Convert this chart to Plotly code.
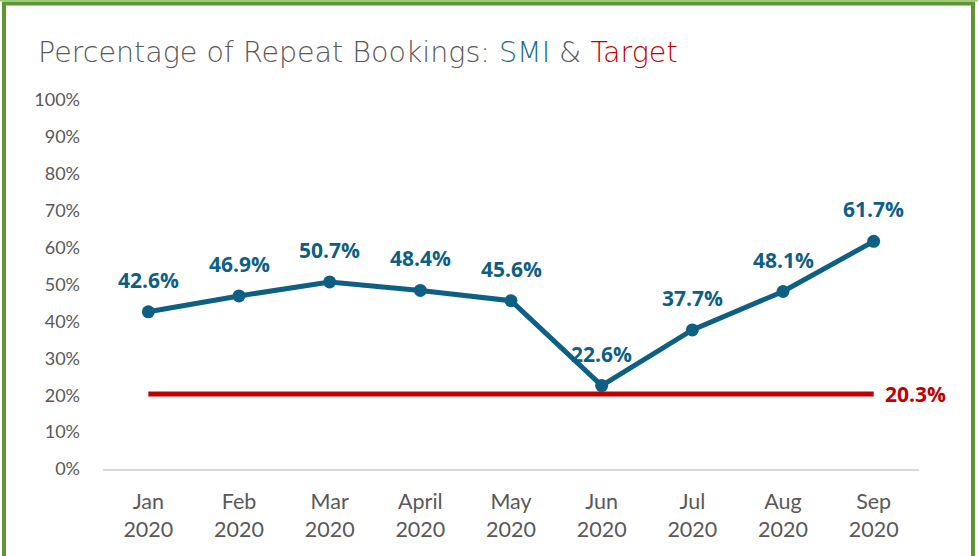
import plotly.graph_objects as go

months = ["Jan<br>2020", "Feb<br>2020", "Mar<br>2020", "April<br>2020", "May<br>2020",
          "Jun<br>2020", "Jul<br>2020", "Aug<br>2020", "Sep<br>2020"]
smi = [42.6, 46.9, 50.7, 48.4, 45.6, 22.6, 37.7, 48.1, 61.7]
target = [20.3] * 9
y_ticks = [0, 10, 20, 30, 40, 50, 60, 70, 80, 90, 100]

SMI_C = "#0E5F84"
TGT_C = "#C00000"
GRAY = "#595959"
GREEN = "#5E9535"

fig = go.Figure()
fig.add_trace(go.Scatter(x=months, y=target, mode="lines",
                         line=dict(color=TGT_C, width=5), hoverinfo="skip"))
fig.add_trace(go.Scatter(x=months, y=smi, mode="lines+markers",
                         line=dict(color=SMI_C, width=5),
                         marker=dict(color=SMI_C, size=13), hoverinfo="skip"))

for m, v in zip(months, smi):
    fig.add_annotation(x=m, y=v, text=f"{v}%", showarrow=False, yshift=32,
                       font=dict(family="Open Sans", size=21, color=SMI_C, weight="bold"))
fig.add_annotation(x=months[-1], y=target[-1], text=f"{target[-1]}%", showarrow=False,
                   xanchor="left", xshift=9,
                   font=dict(family="Open Sans", size=21, color=TGT_C, weight="bold"))

# frame
fig.add_shape(type="rect", xref="paper", yref="paper",
              x0=(4 - 103) / 816, x1=(973 - 103) / 816,
              y0=(469 - 3.5) / 369, y1=(469 - 600) / 369,
              line=dict(color=GREEN, width=4), layer="below")
fig.add_shape(type="line", xref="paper", yref="paper",
              x0=(0 - 103) / 816, x1=(978 - 103) / 816,
              y0=(469 - 0.8) / 369, y1=(469 - 0.8) / 369,
              line=dict(color="#9DC77B", width=1.6), layer="below")

fig.update_layout(
    width=978, height=556,
    margin=dict(l=103, r=59, t=100, b=87),
    paper_bgcolor="white", plot_bgcolor="white",
    showlegend=False,
    title=dict(
        text=("Percentage of Repeat Bookings: <span style='color:#1A6E8E'>SMI</span>"
              " &amp; <span style='color:#C00000'>Target</span>"),
        x=38 / 978, xanchor="left", xref="container",
        y=1 - 52 / 556, yanchor="middle", yref="container",
        font=dict(family="DejaVu Sans", size=28.5, color=GRAY, weight=300),
    ),
    xaxis=dict(
        range=[-0.5, 8.5], showgrid=False, zeroline=False,
        showline=True, linecolor="#D9D9D9", linewidth=2,
        tickfont=dict(family="Lato", size=21.5, color=GRAY),
        ticks="", ticklabelstandoff=12,
    ),
    yaxis=dict(
        range=[0, 100], tickvals=y_ticks, ticktext=[f"{t}%" for t in y_ticks],
        showgrid=False, zeroline=False, showline=False,
        tickfont=dict(family="Lato", size=18, color=GRAY),
        ticks="", ticklabelstandoff=22,
    ),
)

fig.write_html("out.html", config={"displayModeBar": False},
               post_script="document.body.style.margin='0';document.body.style.overflow='hidden';")
